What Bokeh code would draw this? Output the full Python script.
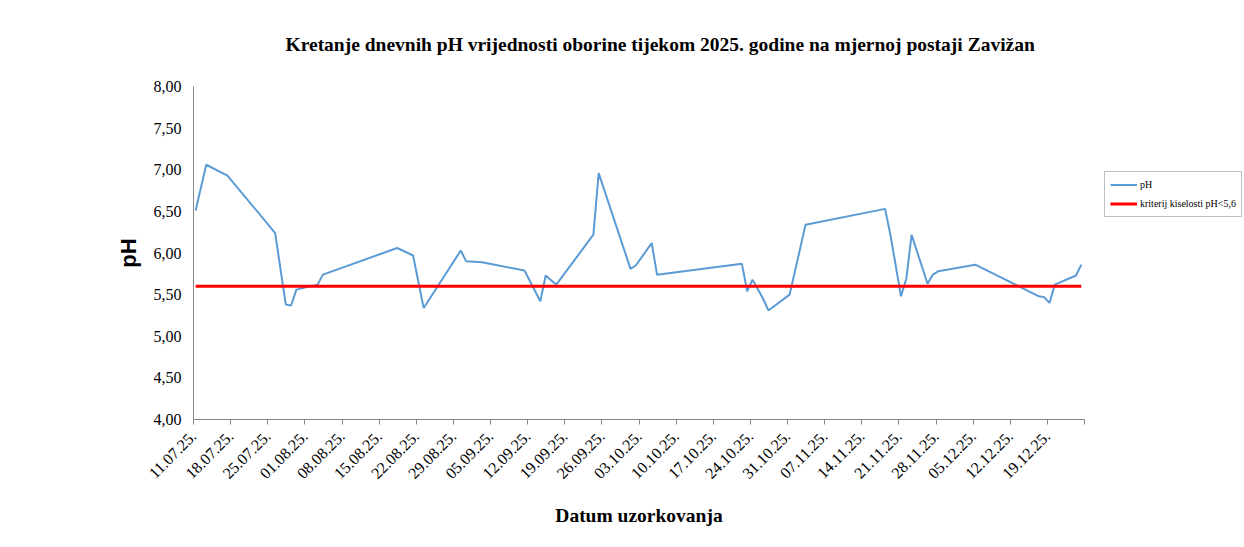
import pandas as pd
from bokeh.plotting import figure
from bokeh.models import FixedTicker, Legend, LegendItem, Range1d, Title
from bokeh.embed import file_html
from bokeh.resources import INLINE

title_text = "Kretanje dnevnih pH vrijednosti oborine tijekom 2025. godine na mjernoj postaji Zavižan"
x_axis_label = "Datum uzorkovanja"
y_axis_label = "pH"
series_label = "pH"
criterion_label = "kriterij kiselosti pH<5,6"
criterion_value = 5.6

dates = [
    "2025-07-11", "2025-07-13", "2025-07-17", "2025-07-26", "2025-07-28", "2025-07-29",
    "2025-07-30", "2025-08-03", "2025-08-04", "2025-08-18", "2025-08-21", "2025-08-23",
    "2025-08-30", "2025-08-31", "2025-09-03", "2025-09-11", "2025-09-14", "2025-09-15",
    "2025-09-17", "2025-09-24", "2025-09-25", "2025-10-01", "2025-10-02", "2025-10-05",
    "2025-10-06", "2025-10-22", "2025-10-23", "2025-10-24", "2025-10-26", "2025-10-27",
    "2025-10-31", "2025-11-03", "2025-11-18", "2025-11-19", "2025-11-21", "2025-11-22",
    "2025-11-23", "2025-11-26", "2025-11-27", "2025-11-28", "2025-12-05", "2025-12-17",
    "2025-12-18", "2025-12-19", "2025-12-20", "2025-12-24", "2025-12-25",
]
ph_values = [
    6.51, 7.06, 6.93, 6.24, 5.38, 5.37,
    5.56, 5.62, 5.74, 6.06, 5.97, 5.34,
    6.03, 5.90, 5.89, 5.79, 5.42, 5.73,
    5.62, 6.22, 6.96, 5.81, 5.85, 6.12,
    5.74, 5.87, 5.54, 5.68, 5.45, 5.31,
    5.50, 6.34, 6.53, 6.22, 5.48, 5.69,
    6.22, 5.63, 5.74, 5.78, 5.86, 5.48,
    5.47, 5.40, 5.62, 5.73, 5.86,
]

x_tick_labels = [
    "11.07.25.", "18.07.25.", "25.07.25.", "01.08.25.", "08.08.25.", "15.08.25.",
    "22.08.25.", "29.08.25.", "05.09.25.", "12.09.25.", "19.09.25.", "26.09.25.",
    "03.10.25.", "10.10.25.", "17.10.25.", "24.10.25.", "31.10.25.", "07.11.25.",
    "14.11.25.", "21.11.25.", "28.11.25.", "05.12.25.", "12.12.25.", "19.12.25.",
]
y_tick_labels = ["4,00", "4,50", "5,00", "5,50", "6,00", "6,50", "7,00", "7,50", "8,00"]
axis_start = "2025-07-11"
axis_end = "2025-12-26"

# ---- derived positions (days since axis start; points sit inside their day) ----
t0 = pd.Timestamp(axis_start)
day_pos = 0.4
x_vals = [(pd.Timestamp(d) - t0).days + day_pos for d in dates]
crit_vals = [criterion_value for _ in dates]
span = (pd.Timestamp(axis_end) - t0).days
x_ticks = [(pd.to_datetime(s, format="%d.%m.%y.") - t0).days for s in x_tick_labels] + [span]
x_overrides = {t: s for t, s in zip(x_ticks, x_tick_labels + [""])}
y_ticks = [float(s.replace(",", ".")) for s in y_tick_labels]
y_overrides = {t: s for t, s in zip(y_ticks, y_tick_labels)}

SERIF = "Liberation Serif"
SANS = "Liberation Sans"
AXIS_GREY = "#868686"

p = figure(
    frame_width=891, frame_height=333,
    min_border_left=193, min_border_right=160, min_border_top=86, min_border_bottom=128,
    x_range=Range1d(0, span), y_range=Range1d(y_ticks[0], y_ticks[-1]),
    output_backend="svg", toolbar_location=None,
    background_fill_color="white", border_fill_color="white",
)
p.outline_line_color = None
p.grid.visible = False

p.add_layout(Title(text=title_text, align="left", offset=92, vertical_align="bottom", standoff=63,
                   text_font=SERIF, text_font_size="19.5px", text_font_style="bold",
                   text_color="black"), "above")

r_ph = p.line(x_vals, ph_values, line_color="#5B9BD5", line_width=2)
r_crit = p.line(x_vals, crit_vals, line_color="#FF0000", line_width=3)

xa = p.xaxis[0]
xa.ticker = FixedTicker(ticks=x_ticks)
xa.major_label_overrides = x_overrides
xa.major_label_orientation = 0.785398
xa.major_label_text_font = SERIF
xa.major_label_text_font_size = "16px"
xa.major_label_text_color = "black"
xa.major_label_standoff = 9
xa.major_tick_out = 5
xa.major_tick_in = 0
xa.minor_tick_out = 0
xa.minor_tick_in = 0
xa.axis_line_color = AXIS_GREY
xa.major_tick_line_color = AXIS_GREY
xa.axis_label = x_axis_label
xa.axis_label_text_font = SERIF
xa.axis_label_text_font_size = "19.5px"
xa.axis_label_text_font_style = "bold"
xa.axis_label_text_color = "black"
xa.axis_label_standoff = 18

ya = p.yaxis[0]
ya.ticker = FixedTicker(ticks=y_ticks)
ya.major_label_overrides = y_overrides
ya.major_label_text_font = SERIF
ya.major_label_text_font_size = "16px"
ya.major_label_text_color = "black"
ya.major_label_standoff = 12
ya.major_tick_out = 0
ya.major_tick_in = 0
ya.minor_tick_out = 0
ya.minor_tick_in = 0
ya.axis_line_color = AXIS_GREY
ya.axis_label = y_axis_label
ya.axis_label_text_font = SANS
ya.axis_label_text_font_size = "22px"
ya.axis_label_text_font_style = "bold"
ya.axis_label_text_color = "black"
ya.axis_label_standoff = 10

legend = Legend(
    items=[LegendItem(label=series_label, renderers=[r_ph]),
           LegendItem(label=criterion_label, renderers=[r_crit])],
    location=(20, 202), margin=0, padding=5, spacing=4,
    glyph_width=27, glyph_height=15, label_height=15, label_standoff=3,
    label_text_font=SERIF, label_text_font_size="10px", label_text_color="black",
    border_line_color="#808080", border_line_width=1,
    background_fill_color="white",
)
p.add_layout(legend, "right")

open("out.html", "w").write(file_html(p, INLINE))
